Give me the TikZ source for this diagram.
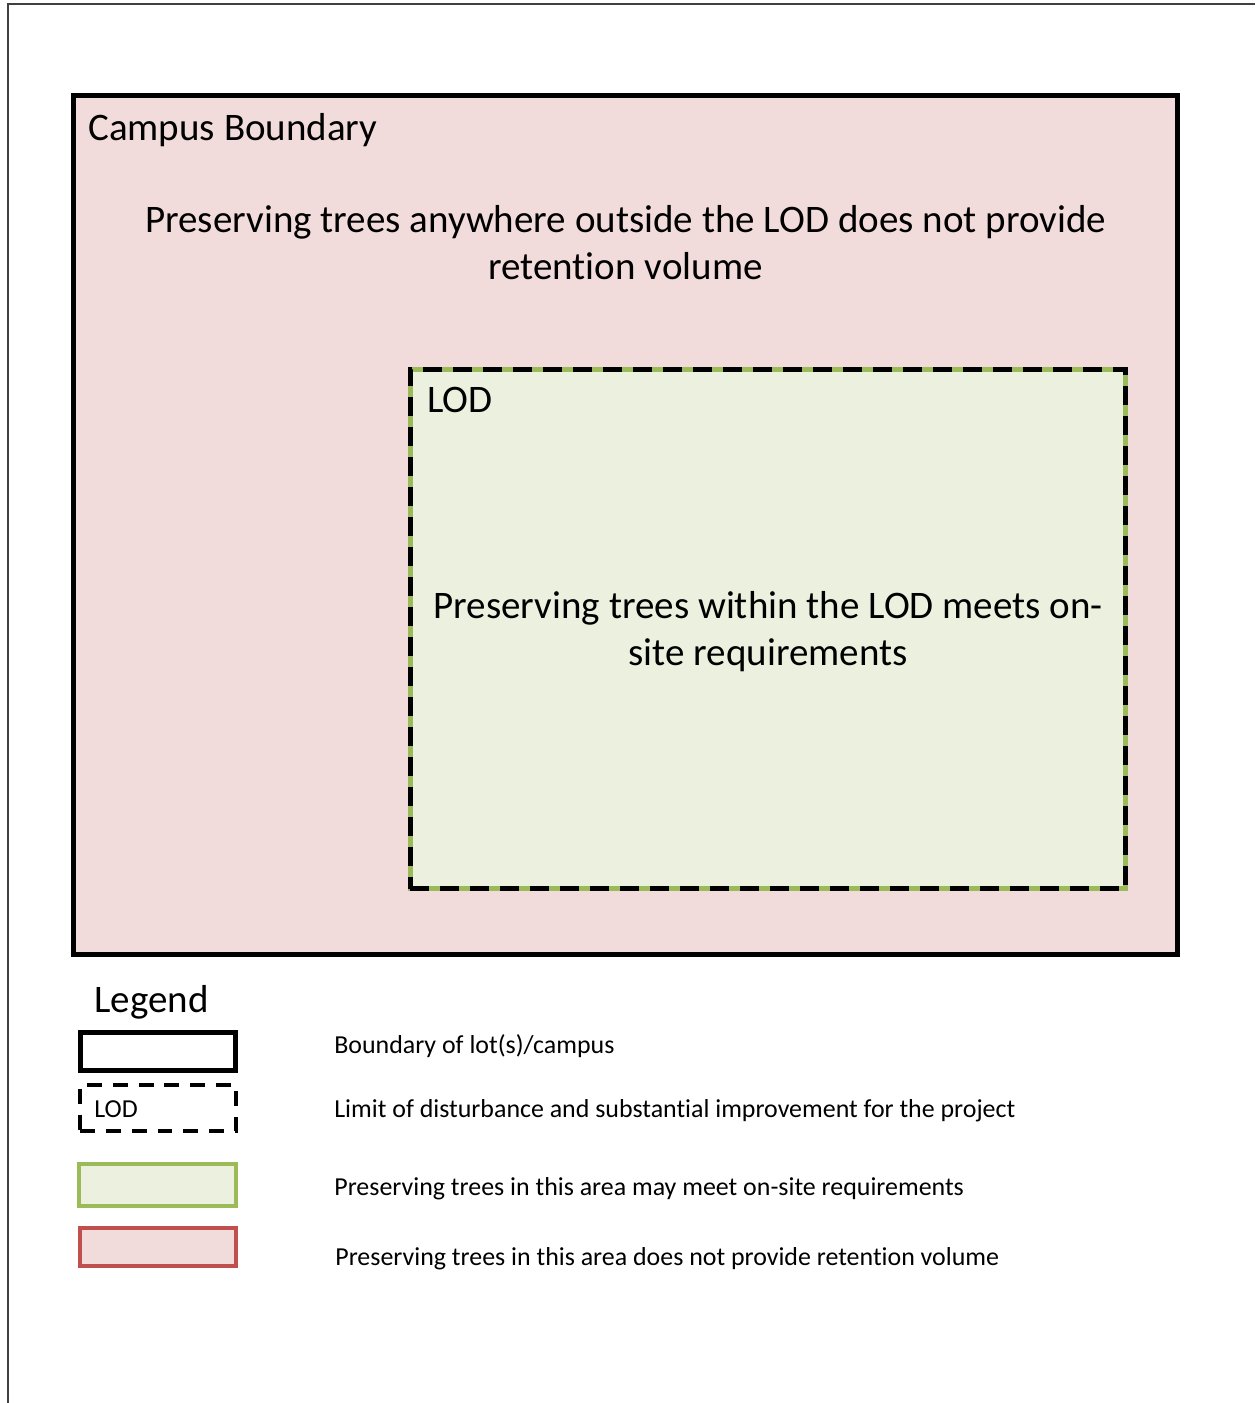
\documentclass[tikz,border=0pt]{standalone}
\usepackage{fontspec}
\setmainfont{Carlito}[Ligatures=NoCommon]

\definecolor{campuspink}{HTML}{F2DCDB}
\definecolor{lodfill}{HTML}{EBF1DE}
\definecolor{lodgreen}{HTML}{9BBB59}
\definecolor{keyred}{HTML}{C0504D}
\definecolor{framegray}{HTML}{404040}

\begin{document}
\begin{tikzpicture}[x=0.02cm, y=-0.02cm,
    area/.style={rectangle, inner sep=0pt, outer sep=0pt},
    campus/.style={area, draw=black, fill=campuspink, line width=0.1cm},
    lod/.style={area, draw=lodgreen, fill=lodfill, line width=0.1cm,
        postaction={draw=black, line width=0.1cm, dash pattern=on 0.38cm off 0.22cm}},
    bigtext/.style={inner sep=0pt, font=\fontsize{22.2}{26.75}\selectfont},
    keybox/.style={area, line width=0.08cm},
    keytext/.style={inner sep=0pt, anchor=base west, font=\fontsize{14.75}{17}\selectfont}
]
    \useasboundingbox (0,0) rectangle (1255,1403);
    \draw[framegray, line width=0.03cm] (8,1403) -- (8,4) -- (1255,4);

    % site areas
    \node[campus, minimum width=22.08cm, minimum height=17.18cm] (campus) at (625.5,525) {};
    \node[lod, minimum width=14.32cm, minimum height=10.4cm] (lod) at (768,629) {};

    \node[bigtext, anchor=base west] (campuslabel) at (88,140) {Campus Boundary};
    \node[bigtext, anchor=base, align=center] (campusnote) at (625.5,279)
        {Preserving trees anywhere outside the LOD does not provide\\retention volume};
    \node[bigtext, anchor=base west] (lodlabel) at (427,412) {LOD};
    \node[bigtext, anchor=base, align=center] (lodnote) at (768,665)
        {Preserving trees within the LOD meets on-\\site requirements};

    % legend
    \node[bigtext, anchor=base west] (legend) at (94,1012) {Legend};
    \node[keybox, draw=black, line width=0.09cm, minimum width=3.1cm, minimum height=0.76cm] (keycampus) at (158,1051.5) {};
    \node[keybox, draw=black, dash pattern=on 0.3cm off 0.22cm, minimum width=3.14cm, minimum height=0.92cm] (keylod) at (158,1107.5) {};
    \node[keytext] (keylodlabel) at (94,1117) {LOD};
    \node[keybox, draw=lodgreen, fill=lodfill, minimum width=3.16cm, minimum height=0.84cm] (keygreen) at (157.5,1184.5) {};
    \node[keybox, draw=keyred, fill=campuspink, minimum width=3.12cm, minimum height=0.76cm] (keyred) at (158,1247) {};

    \node[keytext] (keycampustext) at (334,1053) {Boundary of lot(s)/campus};
    \node[keytext] (keylodtext) at (334,1117) {Limit of disturbance and substantial improvement for the project};
    \node[keytext] (keygreentext) at (334,1195) {Preserving trees in this area may meet on-site requirements};
    \node[keytext] (keyredtext) at (335,1265) {Preserving trees in this area does not provide retention volume};
\end{tikzpicture}
\end{document}
